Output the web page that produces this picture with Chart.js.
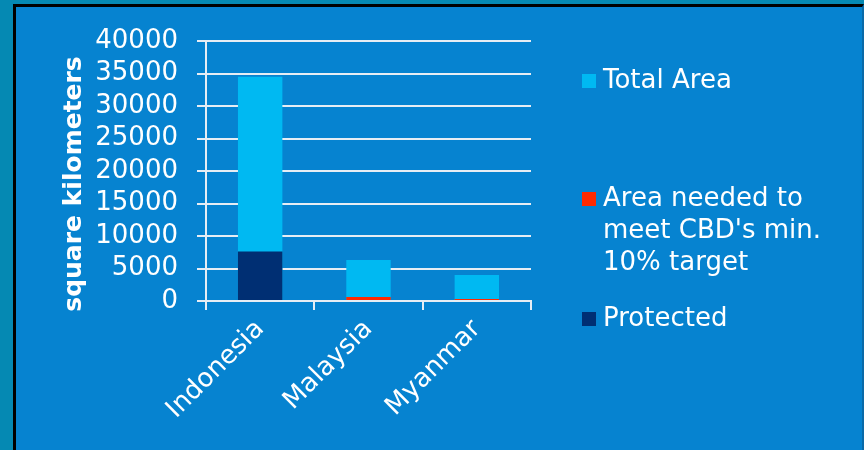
<!DOCTYPE html>
<html>
<head>
<meta charset="utf-8">
<script src="https://cdn.jsdelivr.net/npm/chart.js@4.4.0/dist/chart.umd.min.js"></script>
<style>
    html, body {
        margin: 0;
        padding: 0;
        width: 864px;
        height: 450px;
        overflow: hidden;
        background: #0589b3;
        font-family: "DejaVu Sans", Verdana, sans-serif;
    }
    #panel {
        position: absolute;
        left: 13px;
        top: 4px;
        width: 846px;
        height: 446px;
        background: #0683d0;
        border-left: 3px solid #000;
        border-top: 3px solid #000;
        border-right: 2px solid #0a6aa8;
    }
    #chartBox {
        position: absolute;
        left: 0;
        top: 0;
        width: 864px;
        height: 450px;
    }
    .legend {
        position: absolute;
        left: 582px;
        color: #fff;
        font-size: 26px;
        line-height: 32px;
    }
    .legend span.swatch {
        position: absolute;
        left: 0;
        top: 11px;
        width: 14px;
        height: 14px;
    }
    .legend div.text {
        margin-left: 21px;
    }
</style>
</head>
<body>
<div id="panel"></div>
<div id="chartBox"><canvas id="areaChart" width="864" height="450"></canvas></div>
<div id="legendBox"></div>
<script>
// Countries and areas in square kilometers
const countries = ['Indonesia', 'Malaysia', 'Myanmar'];
const totalArea = [34500, 6300, 4000];
const areaNeeded = [0, 600, 300];
const protectedArea = [7600, 0, 0];
const yTicks = [0, 5000, 10000, 15000, 20000, 25000, 30000, 35000, 40000];

const seriesNames = ['Total Area', "Area needed to\nmeet CBD's min.\n10% target", 'Protected'];
const seriesColors = ['#00b9f2', '#ff2a00', '#002f73'];
const yTitle = 'square kilometers';

// Legend sits to the right of the plot, items spread out
function buildLegend() {
    const box = document.getElementById('legendBox');
    const tops = [63, 181, 301];
    seriesNames.forEach((name, i) => {
        const item = document.createElement('div');
        item.className = 'legend';
        item.style.top = tops[i] + 'px';
        const sw = document.createElement('span');
        sw.className = 'swatch';
        sw.style.background = seriesColors[i];
        const txt = document.createElement('div');
        txt.className = 'text';
        txt.innerHTML = name.split('\n').join('<br>');
        item.appendChild(sw);
        item.appendChild(txt);
        box.appendChild(item);
    });
}

// Rotated y axis title, centred a bit below the plot middle
const yTitlePlugin = {
    id: 'yTitle',
    afterDraw(chart) {
        const c = chart.ctx;
        c.save();
        c.translate(74, 184);
        c.rotate(-Math.PI / 2);
        c.fillStyle = '#fff';
        c.font = 'bold 25px "DejaVu Sans", Verdana, sans-serif';
        c.textAlign = 'center';
        c.textBaseline = 'middle';
        c.fillText(yTitle, 0, 0);
        c.restore();
    }
};

function initializeChart() {
    const ctx = document.getElementById('areaChart');
    const gridColor = '#e6edf4';
    const font = { family: '"DejaVu Sans", Verdana, sans-serif', size: 26 };

    new Chart(ctx, {
        type: 'bar',
        data: {
            labels: countries,
            datasets: [
                { label: 'Total Area', data: totalArea, backgroundColor: seriesColors[0], order: 3 },
                { label: 'Area needed', data: areaNeeded, backgroundColor: seriesColors[1], order: 2 },
                { label: 'Protected', data: protectedArea, backgroundColor: seriesColors[2], order: 1 }
            ]
        },
        options: {
            responsive: false,
            animation: false,
            layout: {
                padding: { left: 90, top: 41, right: 333, bottom: 0 }
            },
            plugins: {
                legend: { display: false },
                tooltip: { enabled: false }
            },
            datasets: {
                bar: {
                    grouped: false,
                    categoryPercentage: 1,
                    barPercentage: 0.41
                }
            },
            scales: {
                x: {
                    grid: {
                        display: true,
                        offset: true,
                        drawOnChartArea: false,
                        color: gridColor,
                        lineWidth: 2,
                        tickLength: 9
                    },
                    border: { color: gridColor, width: 2 },
                    ticks: {
                        color: '#fff',
                        font: font,
                        minRotation: 45,
                        maxRotation: 45,
                        padding: 4
                    },
                    afterFit: function(scale) {
                        scale.height = 149;
                    }
                },
                y: {
                    min: 0,
                    max: 40000,
                    afterBuildTicks: function(scale) {
                        scale.ticks = yTicks.map(v => ({ value: v }));
                    },
                    grid: {
                        color: gridColor,
                        lineWidth: 2,
                        tickLength: 9
                    },
                    border: { color: gridColor, width: 2 },
                    ticks: {
                        color: '#fff',
                        font: font,
                        padding: 19,
                        autoSkip: false,
                        callback: function(value) {
                            return String(value);
                        }
                    },
                    afterFit: function(scale) {
                        scale.width = 116;
                    }
                }
            }
        },
        plugins: [yTitlePlugin]
    });
}

buildLegend();
initializeChart();
</script>
</body>
</html>
